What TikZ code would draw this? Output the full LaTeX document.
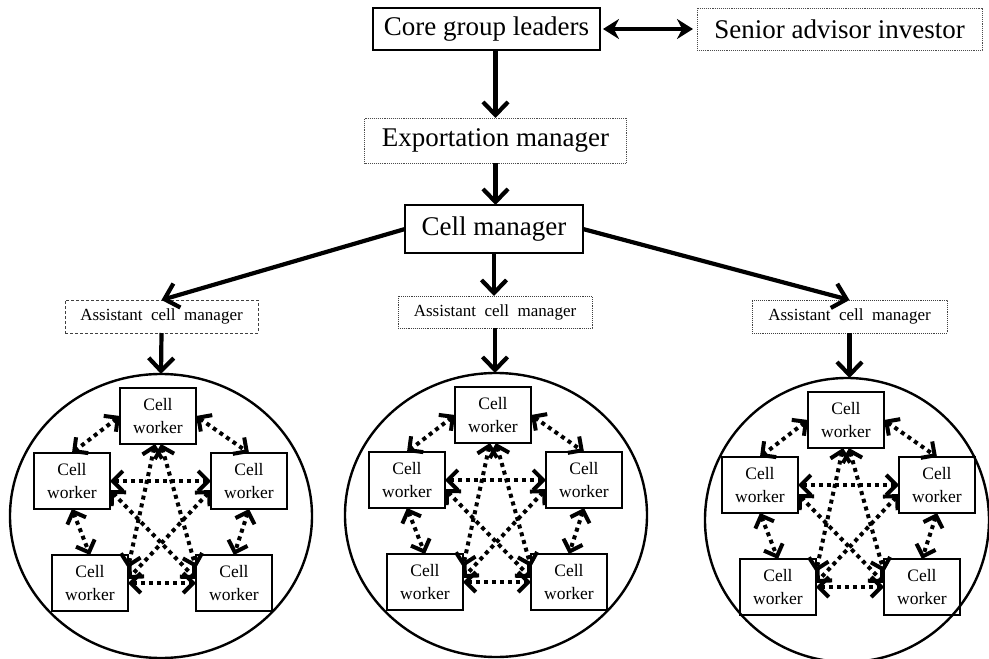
\documentclass[tikz,border=0pt]{standalone}
\usepackage{fontspec}
\setmainfont{Liberation Serif}
\usetikzlibrary{arrows.meta,shapes.geometric}
\tikzset{
  bigbox/.style={draw, line width=1.3pt, inner sep=0pt, outer sep=0pt, font=\fontsize{27}{32}\selectfont},
  dotbox/.style={draw=black!70, densely dotted, line width=0.9pt, inner sep=0pt, outer sep=0pt, font=\fontsize{27}{32}\selectfont},
  asstbox/.style={draw=black!75, line width=0.9pt, inner sep=0pt, outer sep=0pt, minimum height=33pt, font=\fontsize{17}{21}\selectfont},
  worker/.style={draw, line width=1.1pt, inner sep=0pt, outer sep=0pt, minimum width=76pt, minimum height=56pt, align=center, font=\fontsize{17.5}{23}\selectfont},
  ring/.style={draw, ellipse, line width=2.4pt, inner sep=0pt, outer sep=0pt},
  marr/.style={line width=4.2pt, -{Straight Barb[length=13pt,width=25pt]}},
  darr/.style={line width=4pt, dash pattern=on 4pt off 4pt, {Straight Barb[length=10pt,width=20pt]}-{Straight Barb[length=10pt,width=20pt]}},
}
\newcommand\mycluster[5]{%
  \node[ring, minimum width={2*#5}, minimum height=284pt] (#1c) at (#4,#3) {};
  \node[worker] (#1t) at (#2-3,#3-100) {Cell\\worker};
  \node[worker] (#1l) at (#2-89,#3-35) {Cell\\worker};
  \node[worker] (#1r) at (#2+88,#3-35) {Cell\\worker};
  \node[worker] (#1bl) at (#2-71,#3+67) {Cell\\worker};
  \node[worker] (#1br) at (#2+73,#3+67) {Cell\\worker};
  \draw[darr] (#1t.west) -- (#1l.north);
  \draw[darr] (#1t.east) -- (#1r.north);
  \draw[darr] (#1l.south) -- (#1bl.north);
  \draw[darr] (#1r.south) -- (#1br.north);
  \draw[darr] (#1bl.east) -- (#1br.west);
  \draw[darr] (#1l.east) -- (#1r.west);
  \draw[darr] ([xshift=-3pt]#1t.south) -- ([yshift=-13pt]#1bl.north east);
  \draw[darr] ([xshift=3pt]#1t.south) -- ([yshift=-13pt]#1br.north west);
  \draw[darr] ([yshift=-9pt]#1l.east) -- ([yshift=-24pt]#1br.north west);
  \draw[darr] ([yshift=-9pt]#1r.west) -- ([yshift=-24pt]#1bl.north east);
}
\begin{document}
\begin{tikzpicture}[x=1pt,y=-1pt]
\useasboundingbox[fill=white] (0,0) rectangle (989,659);
\node[bigbox, minimum width=227pt, minimum height=42pt] (core) at (486.5,29) {Core group leaders};
\node[dotbox, minimum width=285pt, minimum height=42pt] (senior) at (839.5,29) {Senior advisor investor};
\node[dotbox, minimum width=262pt, minimum height=45pt] (export) at (495.5,140.5) {Exportation manager};
\node[bigbox, minimum width=178pt, minimum height=48pt] (cm) at (494,229) {Cell manager};
\node[asstbox, densely dashed, minimum width=193pt] (a1) at (161.5,316.5) {Assistant\ \ cell\ \ manager};
\node[asstbox, densely dotted, minimum width=194pt, minimum height=32pt] (a2) at (495,312) {Assistant\ \ cell\ \ manager};
\node[asstbox, densely dotted, minimum width=195pt] (a3) at (849.5,316.5) {Assistant\ \ cell\ \ manager};
\draw[line width=4.2pt, {Stealth[length=16pt,width=20pt]}-{Stealth[length=16pt,width=20pt]}] ([xshift=3pt]core.east) -- ([xshift=-4pt]senior.west);
\draw[marr] (core.south -| export.north) -- (export.north);
\draw[marr] (export.south) -- (export.south |- cm.north);
\draw[marr] (cm.west) -- (a1.north);
\draw[marr] (cm.south) -- (cm.south |- a2.north);
\draw[marr] (cm.east) -- (a3.north);
\mycluster{p}{161}{516}{161}{151}
\mycluster{q}{496}{515}{496}{151}
\mycluster{s}{849}{520}{847}{142}
\draw[marr] (a1.south) -- (pc.north);
\draw[marr] (a2.south) -- (a2.south |- qc.north);
\draw[marr] (a3.south) -- (a3.south |- sc.north);
\end{tikzpicture}
\end{document}
